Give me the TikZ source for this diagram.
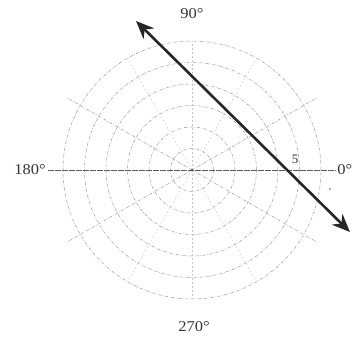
\documentclass[tikz,border=0pt]{standalone}
\usepackage{fontspec}
\setmainfont{Liberation Serif}
\usetikzlibrary{arrows.meta}
\begin{document}
\begin{tikzpicture}[x=1pt,y=1pt,
  gridline/.style={draw=black!40,line width=0.5pt,dash pattern=on 3pt off 1.5pt on 0.6pt off 1.5pt},
  faintline/.style={draw=black!22,line width=0.4pt,dash pattern=on 2pt off 2pt},
  axisline/.style={draw=black!65,line width=0.6pt,dash pattern=on 6pt off 1pt},
  deglabel/.style={font=\fontsize{15}{15}\selectfont,text=black!80,inner sep=0pt,xscale=1.1},
  vecline/.style={draw=black!85,line width=2.6pt,{Stealth[length=18pt,width=15pt]}-{Stealth[length=18pt,width=15pt]}}]
\useasboundingbox (-192,-170) rectangle (161,170);
\coordinate (O) at (0,0);
% circles
\foreach \r in {1,...,6} {
  \draw[gridline] (O) circle ({21.5*\r});
}
% radial lines
\foreach \a in {30,150,210,330} {
  \draw[gridline] (O) -- (\a:144);
}
\foreach \a in {60,90,120,240,270,300} {
  \draw[faintline] (O) -- (\a:129);
}
% horizontal axis
\coordinate (axL) at (-144,0);
\coordinate (axR) at (144,0);
\draw[axisline] (axL) -- (axR);
\fill[black!70] (O) circle (1.2);
% labels
\node[deglabel] (l90) at (0,156) {90°};
\node[deglabel] (l270) at (2,-157) {270°};
\node[deglabel] (l180) at (-162,0) {180°};
\node[deglabel,anchor=east] (l0) at (160.5,0) {0°};
\node[font=\fontsize{13}{13}\selectfont,text=black!80,inner sep=0pt] (l5) at (103,11) {5};
\fill[black!60] (138,-19) circle (0.8);
% vector line
\coordinate (vA) at (-56,149);
\coordinate (vB) at (158,-62);
\draw[vecline] (vA) -- (vB);
\end{tikzpicture}
\end{document}
